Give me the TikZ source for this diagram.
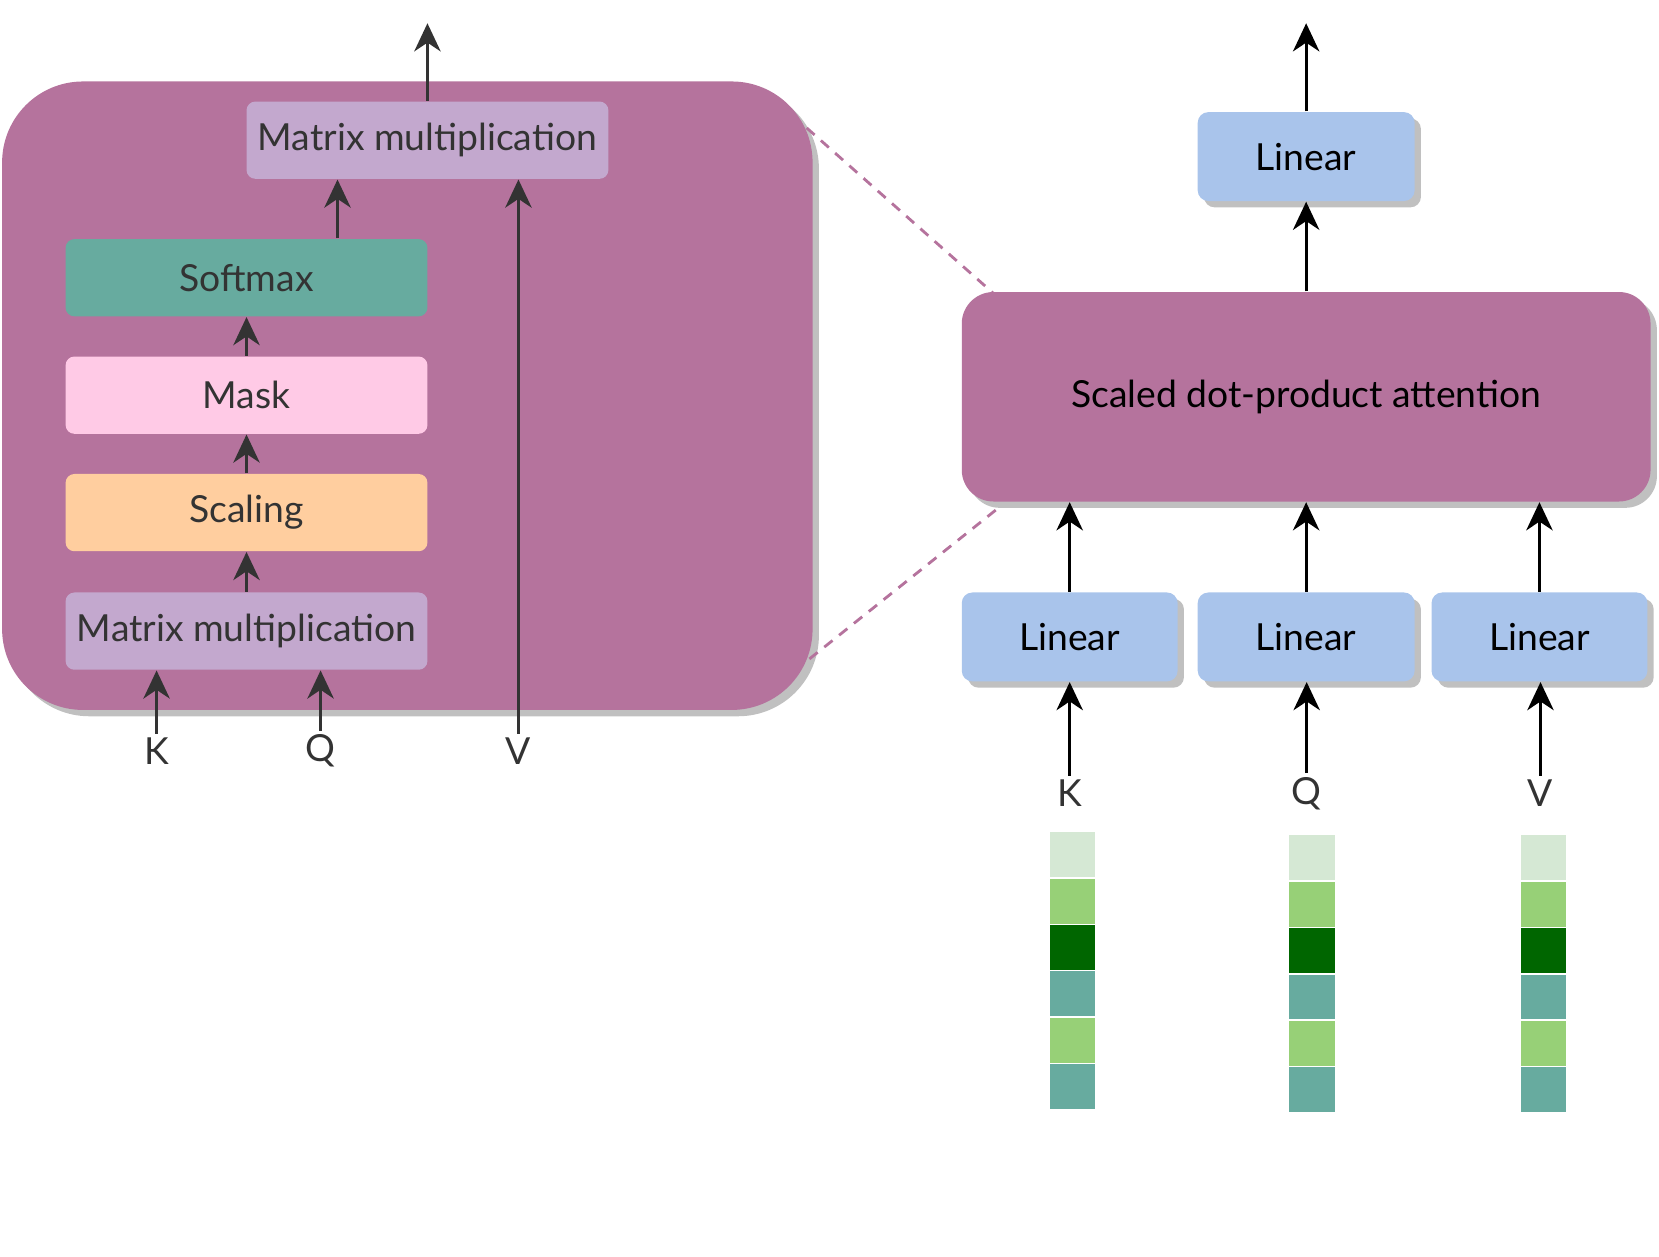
\documentclass[tikz,border=0pt]{standalone}
\usepackage{fontspec}
\setmainfont{Lato}
\usetikzlibrary{arrows.meta,shadows,calc}
\newcommand\uu{0.01058cm}
\definecolor{bigpurple}{HTML}{B5739D}
\definecolor{mmcol}{HTML}{C3A8CE}
\definecolor{softcol}{HTML}{67AB9F}
\definecolor{maskcol}{HTML}{FFCAE6}
\definecolor{scalecol}{HTML}{FFCE9F}
\definecolor{lincol}{HTML}{A9C4EB}
\definecolor{shadcol}{HTML}{C0C0C0}
\definecolor{textgray}{HTML}{333333}
\definecolor{gA}{HTML}{D5E8D4}
\definecolor{gB}{HTML}{97D077}
\definecolor{gC}{HTML}{006600}
\definecolor{gD}{HTML}{67AB9F}
\begin{document}
\begin{tikzpicture}[x=\uu,y=-\uu,
  every node/.style={font=\fontsize{10.6}{13}\selectfont},
  shad/.style={drop shadow={shadow xshift=1.8pt,shadow yshift=-1.8pt,fill=shadcol,opacity=1}},
  lbox/.style={rectangle,rounded corners=2.5pt,inner sep=0pt,text=textgray,
    minimum width={342*\uu},minimum height={73*\uu}},
  linbox/.style={rectangle,rounded corners=3pt,inner sep=0pt,text=black,fill=lincol,shad,
    minimum height={84*\uu}},
  larr/.style={draw=textgray,line width=0.85pt,-{Stealth[length=8pt,width=7.5pt,inset=2.5pt]}},
  rarr/.style={draw=black,line width=0.85pt,-{Stealth[length=8pt,width=7.5pt,inset=2.5pt]}},
  lab/.style={inner sep=1pt},
  cell/.style={rectangle,draw=white,line width=0.4pt,inner sep=0pt,
    minimum width={44*\uu},minimum height={43.8*\uu}},
  zoomline/.style={draw=bigpurple,line width=0.8pt,dash pattern=on 3pt off 2.4pt}
]
\useasboundingbox (0,0) rectangle (1568,1188);

% ---------- left: detailed view ----------
\node[rectangle,rounded corners=23pt,fill=bigpurple,shad,inner sep=0pt,
  minimum width={766*\uu},minimum height={594*\uu}] (big) at (385,374) {};

% dashed zoom lines
\coordinate (za1) at (749,109);
\coordinate (zb1) at (942,280);
\coordinate (za2) at (751,634);
\coordinate (zb2) at (950,475);
\draw[zoomline] (za1) -- (zb1);
\draw[zoomline] (za2) -- (zb2);

\node[lbox,fill=mmcol] (mmTop) at (404,132.5) {Matrix multiplication};
\node[lbox,fill=softcol] (soft) at (233,262.5) {Softmax};
\node[lbox,fill=maskcol] (mask) at (233,373.5) {Mask};
\node[lbox,fill=scalecol] (scal) at (233,484.5) {Scaling};
\node[lbox,fill=mmcol] (mmBot) at (233,596.5) {Matrix multiplication};

\node[lab,text=textgray] (kL) at (148,710) {K};
\node[lab,text=textgray] (qL) at (303,710) {Q};
\node[lab,text=textgray] (vL) at (490,710) {V};

\coordinate (topL) at (404,22);
\coordinate (xs) at (319,0);
\draw[larr] (mmTop.north) -- (topL);
\draw[larr] (soft.north -| xs) -- (mmTop.south -| xs);
\draw[larr] (mask.north) -- (soft.south);
\draw[larr] (scal.north) -- (mask.south);
\draw[larr] (mmBot.north) -- (scal.south);
\draw[larr] (kL.north) -- (mmBot.south -| kL.north);
\draw[larr] (qL.north) -- (mmBot.south -| qL.north);
\draw[larr] (vL.north) -- (mmTop.south -| vL.north);

% ---------- right: multi-head view ----------
\node[rectangle,rounded corners=9pt,fill=bigpurple,shad,inner sep=0pt,text=black,
  minimum width={651*\uu},minimum height={198*\uu}] (sdpa) at (1234.5,375) {Scaled dot-product attention};

\node[linbox,minimum width={205*\uu}] (linTop) at (1234.5,148) {Linear};
\node[linbox,minimum width={204*\uu}] (linK) at (1011,602) {Linear};
\node[linbox,minimum width={205*\uu}] (linQ) at (1234.5,602) {Linear};
\node[linbox,minimum width={204*\uu}] (linV) at (1455,602) {Linear};

\node[lab,text=textgray] (kR) at (1011,750) {K};
\node[lab,text=textgray] (qR) at (1235,750) {Q};
\node[lab,text=textgray] (vR) at (1456,750) {V};

\coordinate (topR) at (1234.5,22);
\draw[rarr] (linTop.north) -- (topR);
\draw[rarr] (sdpa.north) -- (linTop.south);
\draw[rarr] (linK.north) -- (sdpa.south -| linK.north);
\draw[rarr] (linQ.north) -- (sdpa.south -| linQ.north);
\draw[rarr] (linV.north) -- (sdpa.south -| linV.north);
\draw[rarr] (kR.north) -- (linK.south -| kR.north);
\draw[rarr] (qR.north) -- (linQ.south -| qR.north);
\draw[rarr] (vR.north) -- (linV.south -| vR.north);

% vectors
\foreach \c [count=\i] in {gA,gB,gC,gD,gB,gD} {
  \node[cell,fill=\c] (vk\i) at ({1014},{786+43.8*(\i-0.5)}) {};
  \node[cell,fill=\c] (vq\i) at ({1240},{789+43.8*(\i-0.5)}) {};
  \node[cell,fill=\c] (vv\i) at ({1459},{789+43.8*(\i-0.5)}) {};
}
\end{tikzpicture}
\end{document}
